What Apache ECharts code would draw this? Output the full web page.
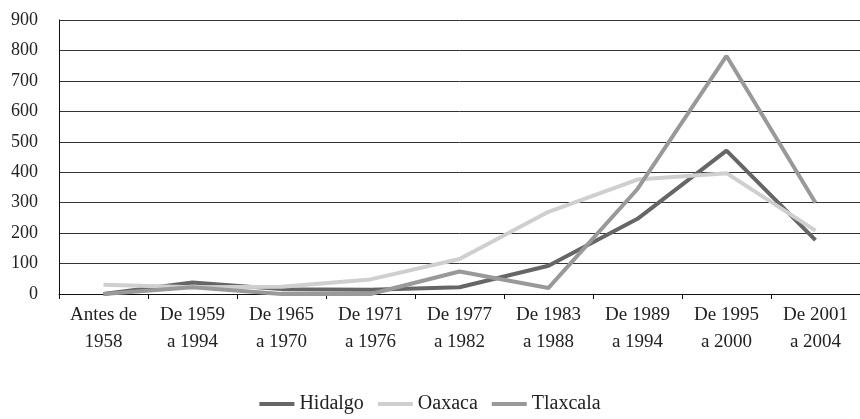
<!DOCTYPE html>
<html>
<head>
<meta charset="utf-8">
<script src="https://cdn.jsdelivr.net/npm/echarts@6/dist/echarts.min.js"></script>
<style>
  html, body { margin: 0; padding: 0; background: #fff; }
  #chart { width: 860px; height: 419px; }
</style>
</head>
<body>
<div id="chart"></div>
<script>
  // periodos
  var categorias = ['Antes de\n1958', 'De 1959\na 1994', 'De 1965\na 1970', 'De 1971\na 1976',
    'De 1977\na 1982', 'De 1983\na 1988', 'De 1989\na 1994', 'De 1995\na 2000', 'De 2001\na 2004'];
  var hidalgo = [0, 38, 16, 14, 22, 93, 247, 471, 177];
  var oaxaca = [30, 22, 24, 48, 115, 270, 376, 397, 208];
  var tlaxcala = [0, 22, 0, 0, 74, 20, 345, 782, 300];

  var fuente = '"Liberation Serif", "DejaVu Serif", serif';
  var chart = echarts.init(document.getElementById('chart'));

  function serie(nombre, datos, color) {
    return {
      name: nombre,
      type: 'line',
      data: datos,
      symbol: 'none',
      lineStyle: { color: color, width: 4 },
      itemStyle: { color: color }
    };
  }

  var option = {
    animation: false,
    textStyle: { fontFamily: fuente },
    grid: { left: 59, right: 0, top: 20, bottom: 125 },
    legend: {
      bottom: 0,
      left: 'center',
      itemWidth: 35,
      itemHeight: 4,
      itemGap: 14,
      icon: 'rect',
      textStyle: { fontFamily: fuente, fontSize: 20, color: '#222' },
      data: ['Hidalgo', 'Oaxaca', 'Tlaxcala']
    },
    xAxis: {
      type: 'category',
      data: categorias,
      boundaryGap: true,
      axisLine: { lineStyle: { color: '#111', width: 1 } },
      axisTick: { show: true, length: 5, lineStyle: { color: '#111' } },
      axisLabel: { fontFamily: fuente, color: '#222', fontSize: 19, lineHeight: 27, margin: 8, interval: 0 }
    },
    yAxis: {
      type: 'value',
      min: 0,
      max: 900,
      interval: 100,
      axisLine: { show: true, lineStyle: { color: '#111', width: 1 } },
      axisTick: { show: false },
      axisLabel: { fontFamily: fuente, color: '#222', fontSize: 18, margin: 21 },
      splitLine: { lineStyle: { color: '#333', width: 1 } }
    },
    series: [
      serie('Hidalgo', hidalgo, '#666666'),
      serie('Oaxaca', oaxaca, '#cfcfcf'),
      serie('Tlaxcala', tlaxcala, '#999999')
    ]
  };

  chart.setOption(option);
</script>
</body>
</html>
